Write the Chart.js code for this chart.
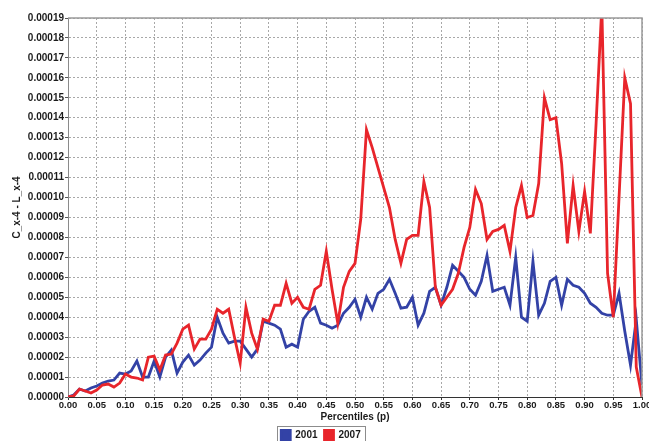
<!DOCTYPE html>
<html>
<head>
<meta charset="utf-8">
<script src="https://cdn.jsdelivr.net/npm/chart.js@4"></script>
<style>
  html, body { margin: 0; padding: 0; background: #fff; }
  #wrap { width: 649px; height: 441px; }
</style>
</head>
<body>
<div id="wrap"><canvas id="chart" width="649" height="441"></canvas></div>
<script>
// percentiles p, one point per 0.01
const percentiles = [
  0.00, 0.01, 0.02, 0.03, 0.04, 0.05, 0.06, 0.07, 0.08, 0.09,
  0.10, 0.11, 0.12, 0.13, 0.14, 0.15, 0.16, 0.17, 0.18, 0.19,
  0.20, 0.21, 0.22, 0.23, 0.24, 0.25, 0.26, 0.27, 0.28, 0.29,
  0.30, 0.31, 0.32, 0.33, 0.34, 0.35, 0.36, 0.37, 0.38, 0.39,
  0.40, 0.41, 0.42, 0.43, 0.44, 0.45, 0.46, 0.47, 0.48, 0.49,
  0.50, 0.51, 0.52, 0.53, 0.54, 0.55, 0.56, 0.57, 0.58, 0.59,
  0.60, 0.61, 0.62, 0.63, 0.64, 0.65, 0.66, 0.67, 0.68, 0.69,
  0.70, 0.71, 0.72, 0.73, 0.74, 0.75, 0.76, 0.77, 0.78, 0.79,
  0.80, 0.81, 0.82, 0.83, 0.84, 0.85, 0.86, 0.87, 0.88, 0.89,
  0.90, 0.91, 0.92, 0.93, 0.94, 0.95, 0.96, 0.97, 0.98, 0.99,
  1.00
];

// values, in units of 0.00001
const UNIT = 0.00001;
const series2001 = [
  0, 0.1, 0.4, 0.3, 0.45, 0.55, 0.7, 0.8, 0.85, 1.2,
  1.15, 1.3, 1.8, 1.0, 1.0, 1.8, 1.0, 2.0, 2.35, 1.2,
  1.75, 2.1, 1.6, 1.85, 2.2, 2.5, 4.0, 3.2, 2.7, 2.8,
  2.8, 2.4, 2.0, 2.4, 3.8, 3.7, 3.6, 3.4, 2.5, 2.65,
  2.5, 3.9, 4.3, 4.5, 3.7, 3.6, 3.45, 3.6, 4.2, 4.5,
  4.9, 4.0, 5.0, 4.4, 5.2, 5.4, 5.9, 5.2, 4.45, 4.5,
  5.0, 3.6, 4.2, 5.3, 5.5, 4.6, 5.5, 6.6, 6.3, 6.0,
  5.4, 5.1, 5.8, 7.1, 5.3, 5.4, 5.5, 4.6, 7.0, 4.0,
  3.8, 6.8, 4.1, 4.7, 5.8, 6.0, 4.6, 5.9, 5.6, 5.5,
  5.2, 4.7, 4.5, 4.2, 4.1, 4.1, 5.2, 3.3, 1.6, 3.9,
  0.6
];
const series2007 = [
  0, 0.05, 0.4, 0.3, 0.2, 0.35, 0.6, 0.65, 0.5, 0.7,
  1.15, 1.0, 0.95, 0.85, 2.0, 2.05, 1.35, 2.1, 2.15, 2.7,
  3.4, 3.6, 2.4, 2.9, 2.9, 3.4, 4.4, 4.2, 4.4, 3.0,
  1.7, 4.5, 3.2, 2.4, 3.9, 3.8, 4.6, 4.6, 5.7, 4.7,
  5.0, 4.5, 4.4, 5.4, 5.6, 7.3, 5.4, 3.7, 5.5, 6.3,
  6.7, 8.9, 13.4, 12.5, 11.5, 10.5, 9.5, 7.9, 6.7, 7.9,
  8.1, 8.1, 10.8, 9.5, 5.5, 4.6, 5.0, 5.4, 6.2, 7.5,
  8.5, 10.4, 9.7, 7.9, 8.3, 8.4, 8.6, 7.3, 9.5, 10.6,
  9.0, 9.1, 10.7, 15.0, 13.9, 14.0, 11.7, 7.7, 10.6, 8.3,
  10.3, 8.2, 13.7, 19.6, 6.2, 4.0, 10.0, 16.0, 14.7, 1.5,
  0
];

const toPoints = vals => vals.map((v, i) => ({ x: percentiles[i], y: v * UNIT }));

const boldFont = size => ({ family: 'Liberation Sans, Arial, sans-serif', size, weight: 'bold' });

// grey frame round the plot and a box round the legend
const framePlugin = {
  id: 'frame',
  afterDraw(chart) {
    const { ctx, chartArea: a } = chart;
    ctx.save();
    ctx.strokeStyle = '#9a9a9a';
    ctx.lineWidth = 1.5;
    ctx.beginPath();
    ctx.moveTo(a.left, a.top);
    ctx.lineTo(a.right, a.top);
    ctx.lineTo(a.right, a.bottom);
    ctx.stroke();

    const boxes = chart.legend.legendHitBoxes;
    if (boxes && boxes.length) {
      const l = Math.min(...boxes.map(b => b.left)) - 4;
      const r = Math.max(...boxes.map(b => b.left + b.width)) + 5;
      const t = boxes[0].top - 4;
      ctx.strokeStyle = '#8c8c8c';
      ctx.lineWidth = 1;
      ctx.strokeRect(Math.round(l) + 0.5, Math.round(t) + 0.5, Math.round(r - l), 30);
    }
    ctx.restore();
  }
};

new Chart(document.getElementById('chart'), {
  type: 'line',
  data: {
    datasets: [
      {
        label: '2001',
        data: toPoints(series2001),
        borderColor: '#3342a6',
        backgroundColor: '#3342a6',
        borderWidth: 2.8,
        pointRadius: 0,
        tension: 0,
        clip: 0,
        order: 1
      },
      {
        label: '2007',
        data: toPoints(series2007),
        borderColor: '#e8252b',
        backgroundColor: '#e8252b',
        borderWidth: 2.8,
        pointRadius: 0,
        tension: 0,
        clip: 0,
        order: 0
      }
    ]
  },
  options: {
    responsive: false,
    animation: false,
    devicePixelRatio: 1,
    layout: { padding: { top: 18, right: 7, left: 0, bottom: 0 } },
    scales: {
      x: {
        type: 'linear',
        min: 0,
        max: 1,
        afterFit(scale) {
          scale.paddingLeft = 0;
          scale.paddingRight = 0;
          scale.height = 26;
        },
        ticks: {
          stepSize: 0.05,
          autoSkip: false,
          maxRotation: 0,
          padding: 0,
          color: '#1a1a1a',
          font: boldFont(9.5),
          callback: v => v.toFixed(2)
        },
        grid: { color: '#a8a8a8', tickLength: 3, tickColor: '#333', tickBorderDash: [] },
        border: { color: '#333', width: 1, dash: [2, 2] },
        title: {
          display: true,
          text: 'Percentiles (p)',
          color: '#1a1a1a',
          font: boldFont(10),
          padding: { top: 0, bottom: 0 }
        }
      },
      y: {
        min: 0,
        max: 0.00019,
        afterFit(scale) { scale.width = 68; },
        ticks: {
          stepSize: 0.00001,
          padding: 1,
          color: '#1a1a1a',
          font: boldFont(10),
          callback: v => v.toFixed(5)
        },
        grid: { color: '#a8a8a8', tickLength: 3, tickColor: '#555', tickBorderDash: [] },
        border: { color: '#8a8a8a', width: 1, dash: [2, 2] },
        title: {
          display: true,
          text: 'C_x-4 - L_x-4',
          color: '#1a1a1a',
          font: boldFont(10),
          padding: { top: 11, bottom: 0 }
        }
      }
    },
    plugins: {
      legend: {
        position: 'bottom',
        maxHeight: 18,
        labels: {
          boxWidth: 9,
          boxHeight: 9,
          padding: 7,
          color: '#1a1a1a',
          font: boldFont(10),
          sort: (a, b) => a.datasetIndex - b.datasetIndex
        }
      },
      tooltip: { enabled: false }
    }
  },
  plugins: [framePlugin]
});
</script>
</body>
</html>
